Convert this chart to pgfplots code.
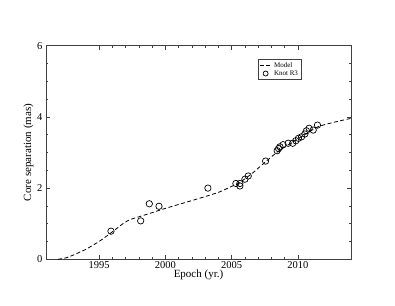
\documentclass[border=0pt]{standalone}
\usepackage{fontspec}
\setmainfont{Liberation Serif}
\usepackage{pgfplots}
\pgfplotsset{compat=1.18}
\pgfplotsset{
  shortline/.style={legend image code/.code={\draw[##1] (0pt,0pt) -- (12pt,0pt);}},
  knotlegend/.style={legend image code/.code={\draw[##1,mark size=2.5pt] plot coordinates {(6pt,0pt)};}},
}
\begin{document}
\begin{tikzpicture}[x=1pt,y=1pt]
\path (0,0) rectangle (395,305);
\begin{axis}[
  at={(46pt,45.7pt)}, anchor=south west,
  scale only axis, width=305pt, height=213.6pt,
  xmin=1991, xmax=2014, ymin=0, ymax=6,
  xtick={1995,2000,2005,2010}, minor x tick num=4,
  ytick={0,2,4,6}, minor y tick num=3,
  tick align=inside, major tick length=4pt, minor tick length=2pt,
  axis line style={line width=0.8pt, black!75},
  every tick/.style={black!75, line width=0.6pt},
  tick label style={font=\fontsize{10.5}{11}\selectfont},
  xticklabel style={yshift=1pt},
  /pgf/number format/assume math mode=true,
  xticklabel={\pgfmathprintnumber[1000 sep={}]{\tick}},
  xlabel={Epoch (yr.)}, ylabel={Core separation (mas)},
  label style={font=\fontsize{11}{12}\selectfont},
  xlabel style={yshift=6pt}, ylabel style={yshift=-3pt},
  legend style={at={(0.695,0.936)}, anchor=north west, font=\fontsize{7}{7.5}\selectfont,
    draw=black!75, line width=0.5pt, inner sep=1pt, row sep=-2.5pt},
  legend cell align=left,
]
\addplot[black, line width=0.8pt, dash pattern=on 4pt off 2.5pt, smooth, tension=0.4, shortline] coordinates {
(1991.9,0) (1992.5,0.04) (1993,0.11) (1994,0.28) (1995,0.50) (1996,0.77)
(1996.8,1.00) (1997.3,1.11) (1997.8,1.17) (1999,1.31) (2000,1.43) (2002,1.65)
(2004,1.88) (2005,2.05) (2005.5,2.13) (2006.5,2.40) (2007.5,2.72) (2008.5,3.03)
(2009.5,3.27) (2010.5,3.50) (2011.5,3.72) (2012.5,3.83) (2014,3.96)
};
\addlegendentry{Model}
\addplot[only marks, mark=o, mark size=3.2pt, black, line width=0.7pt, knotlegend] coordinates {
(1995.90,0.79) (1998.14,1.08) (1998.79,1.56) (1999.52,1.49) (2003.21,2.00)
(2005.32,2.13) (2005.62,2.13) (2005.62,2.06) (2006.0,2.25) (2006.25,2.34)
(2007.56,2.76)
(2008.43,3.05) (2008.54,3.11) (2008.64,3.16) (2008.88,3.22) (2009.26,3.26)
(2009.6,3.26) (2009.84,3.33) (2010.04,3.40) (2010.27,3.44) (2010.52,3.52)
(2010.64,3.61) (2010.84,3.68) (2011.15,3.63) (2011.47,3.77)
};
\addlegendentry{Knot R3}
\end{axis}
\end{tikzpicture}
\end{document}
